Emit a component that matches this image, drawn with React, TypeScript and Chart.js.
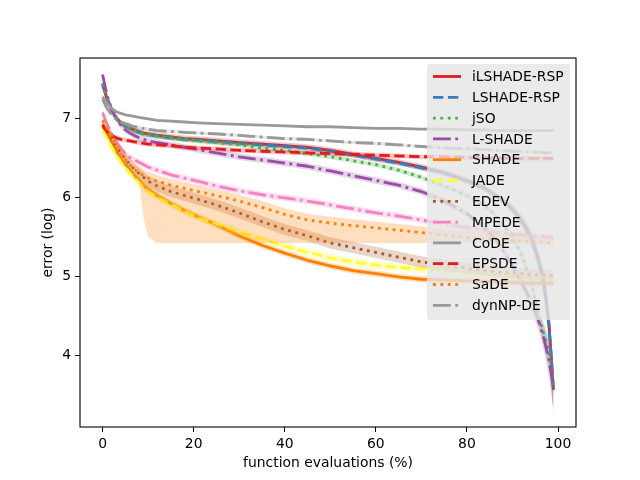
import { useEffect, useRef } from 'react'
import { Chart, registerables } from 'chart.js'

Chart.register(...registerables)

// function evaluations (%) at which the curves were read
const X = [0, 1, 2, 3, 4, 5, 6, 7, 8, 9, 10, 12, 15, 18, 21, 25, 30, 35, 40, 45, 50, 55, 60, 65, 70, 75, 80, 84, 87, 90, 92, 94, 96, 97, 98, 99]

const ILSHADE_RSP = [7.43, 7.25, 7.11, 7.01, 6.95, 6.91, 6.88, 6.86, 6.84, 6.82, 6.81, 6.79, 6.77, 6.75, 6.74, 6.72, 6.70, 6.68, 6.66, 6.64, 6.60, 6.55, 6.50, 6.45, 6.39, 6.32, 6.22, 6.12, 6.01, 5.86, 5.72, 5.52, 5.17, 4.88, 4.42, 3.57]
const LSHADE_RSP = [7.45, 7.26, 7.11, 7.01, 6.95, 6.91, 6.88, 6.85, 6.83, 6.81, 6.80, 6.78, 6.76, 6.74, 6.73, 6.71, 6.69, 6.67, 6.65, 6.63, 6.59, 6.54, 6.49, 6.44, 6.38, 6.31, 6.21, 6.11, 6.00, 5.85, 5.70, 5.50, 5.15, 4.85, 4.40, 3.57]
const JSO = [7.45, 7.26, 7.11, 7.01, 6.95, 6.91, 6.88, 6.85, 6.83, 6.81, 6.80, 6.78, 6.76, 6.74, 6.72, 6.70, 6.67, 6.63, 6.60, 6.56, 6.52, 6.47, 6.42, 6.35, 6.26, 6.15, 6.03, 5.90, 5.73, 5.50, 5.28, 4.95, 4.45, 4.25, 4.05, 3.62]
const L_SHADE = [7.56, 7.30, 7.12, 7.00, 6.92, 6.86, 6.82, 6.79, 6.76, 6.74, 6.72, 6.70, 6.67, 6.64, 6.61, 6.57, 6.52, 6.48, 6.44, 6.40, 6.34, 6.28, 6.22, 6.16, 6.08, 5.96, 5.80, 5.62, 5.42, 5.14, 4.93, 4.70, 4.40, 4.20, 3.95, 3.60]
const SHADE = [6.90, 6.82, 6.70, 6.59, 6.49, 6.42, 6.35, 6.28, 6.22, 6.16, 6.11, 6.03, 5.93, 5.84, 5.76, 5.66, 5.52, 5.40, 5.30, 5.21, 5.14, 5.08, 5.04, 5.00, 4.97, 4.96, 4.95, 4.94, 4.93, 4.93, 4.92, 4.92, 4.92, 4.92, 4.92, 4.92]
const JADE = [6.86, 6.75, 6.64, 6.54, 6.45, 6.38, 6.31, 6.25, 6.19, 6.13, 6.08, 6.01, 5.92, 5.83, 5.75, 5.67, 5.57, 5.48, 5.39, 5.31, 5.24, 5.19, 5.15, 5.12, 5.10, 5.08, 5.06, 5.04, 5.03, 5.02, 5.01, 5.01, 5.00, 5.00, 5.00, 5.00]
const EDEV = [6.93, 6.85, 6.76, 6.66, 6.57, 6.49, 6.42, 6.36, 6.31, 6.26, 6.21, 6.15, 6.08, 6.03, 5.98, 5.91, 5.81, 5.70, 5.60, 5.52, 5.43, 5.37, 5.31, 5.25, 5.19, 5.15, 5.11, 5.08, 5.06, 5.05, 5.04, 5.03, 5.03, 5.02, 5.02, 5.02]
const MPEDE = [7.08, 6.93, 6.81, 6.71, 6.63, 6.56, 6.51, 6.48, 6.45, 6.42, 6.39, 6.35, 6.29, 6.25, 6.21, 6.15, 6.09, 6.04, 6.00, 5.96, 5.91, 5.86, 5.81, 5.77, 5.72, 5.67, 5.62, 5.59, 5.56, 5.54, 5.53, 5.52, 5.51, 5.51, 5.50, 5.50]
const CODE = [7.28, 7.20, 7.13, 7.09, 7.07, 7.05, 7.04, 7.03, 7.02, 7.01, 7.00, 6.98, 6.97, 6.96, 6.95, 6.94, 6.93, 6.92, 6.91, 6.90, 6.90, 6.89, 6.88, 6.88, 6.87, 6.87, 6.86, 6.86, 6.85, 6.85, 6.85, 6.85, 6.85, 6.85, 6.85, 6.85]
const EPSDE = [6.92, 6.84, 6.79, 6.76, 6.74, 6.73, 6.72, 6.71, 6.70, 6.69, 6.68, 6.67, 6.66, 6.64, 6.63, 6.62, 6.60, 6.59, 6.58, 6.57, 6.56, 6.55, 6.54, 6.53, 6.52, 6.52, 6.51, 6.51, 6.50, 6.50, 6.50, 6.50, 6.50, 6.50, 6.50, 6.50]
const SADE = [6.98, 6.88, 6.77, 6.66, 6.56, 6.49, 6.42, 6.36, 6.32, 6.28, 6.25, 6.21, 6.16, 6.12, 6.08, 6.03, 5.96, 5.88, 5.79, 5.72, 5.68, 5.65, 5.62, 5.59, 5.56, 5.53, 5.50, 5.48, 5.47, 5.46, 5.45, 5.45, 5.44, 5.44, 5.43, 5.43]
const DYNNP_DE = [7.25, 7.13, 7.05, 6.99, 6.96, 6.94, 6.92, 6.90, 6.89, 6.88, 6.87, 6.85, 6.84, 6.83, 6.82, 6.81, 6.79, 6.77, 6.75, 6.74, 6.72, 6.70, 6.69, 6.67, 6.65, 6.63, 6.62, 6.61, 6.60, 6.59, 6.59, 6.58, 6.58, 6.57, 6.57, 6.57]

// lower edge of the SaDE band (it collapses to a flat floor after ~10%)
const SADE_LO = [6.94, 6.84, 6.73, 6.62, 6.52, 6.45, 6.38, 6.32, 6.22, 5.75, 5.50, 5.43, 5.43, 5.43, 5.43, 5.43, 5.43, 5.43, 5.43, 5.43, 5.43, 5.43, 5.43, 5.43, 5.43, 5.43, 5.43, 5.43, 5.43, 5.42, 5.42, 5.41, 5.40, 5.40, 5.40, 5.40]
// extra band half-width at the end of the steeply dropping runs
const TAIL = [0, 0, 0, 0, 0, 0, 0, 0, 0, 0, 0, 0, 0, 0, 0, 0, 0, 0, 0, 0, 0, 0, 0, 0, 0, 0, 0, 0, 0, 0.02, 0.03, 0.05, 0.08, 0.12, 0.17, 0.26]

const X_TICKS = [0, 20, 40, 60, 80, 100]
const Y_TICKS = [4, 5, 6, 7]

const FONT = "'DejaVu Sans', sans-serif"
const SOLID: number[] = []
const DASHED = [10.4, 4.5]
const DOTTED = [2.8, 4.6]
const DASHDOT = [17.8, 4.5, 2.8, 4.5]

const SERIES = [
  { label: 'iLSHADE-RSP', values: ILSHADE_RSP, color: '#e41a1c', dash: SOLID, spread: 0.04, tail: true },
  { label: 'LSHADE-RSP', values: LSHADE_RSP, color: '#377eb8', dash: DASHED, spread: 0.03, tail: true },
  { label: 'jSO', values: JSO, color: '#4daf4a', dash: DOTTED, spread: 0.03, tail: true },
  { label: 'L-SHADE', values: L_SHADE, color: '#984ea3', dash: DASHDOT, spread: 0.04, tail: true },
  { label: 'SHADE', values: SHADE, color: '#ff7f00', dash: SOLID, spread: 0.04, tail: false },
  { label: 'JADE', values: JADE, color: '#ffff33', dash: DASHED, spread: 0.05, tail: false },
  { label: 'EDEV', values: EDEV, color: '#a65628', dash: DOTTED, spread: 0.07, tail: false },
  { label: 'MPEDE', values: MPEDE, color: '#f781bf', dash: DASHDOT, spread: 0.04, tail: false },
  { label: 'CoDE', values: CODE, color: '#999999', dash: SOLID, spread: 0.01, tail: false },
  { label: 'EPSDE', values: EPSDE, color: '#e41a1c', dash: DASHED, spread: 0.03, tail: false },
  { label: 'SaDE', values: SADE, color: '#ff7f00', dash: DOTTED, spread: 0.08, tail: false, lo: SADE_LO },
  { label: 'dynNP-DE', values: DYNNP_DE, color: '#999999', dash: DASHDOT, spread: 0.02, tail: false },
]

function rgba(hex: string, a: number) {
  const n = parseInt(hex.slice(1), 16)
  return `rgba(${(n >> 16) & 255},${(n >> 8) & 255},${n & 255},${a})`
}

const framePlugin = {
  id: 'frame',
  afterDatasetsDraw(chart: Chart) {
    const { ctx, chartArea: a } = chart
    ctx.save()
    ctx.strokeStyle = '#000'
    ctx.lineWidth = 1.1
    ctx.strokeRect(a.left, a.top, a.right - a.left, a.bottom - a.top)
    ctx.restore()
  },
}

const boxLegend = {
  id: 'boxLegend',
  afterDraw(chart: Chart) {
    const { ctx } = chart
    const x = 427, y = 64, w = 143, h = 256, r = 3
    ctx.save()
    ctx.fillStyle = 'rgba(229,229,229,0.8)'
    ctx.beginPath()
    ctx.roundRect(x, y, w, h, r)
    ctx.fill()
    ctx.font = `13.9px ${FONT}`
    ctx.textBaseline = 'middle'
    ctx.textAlign = 'left'
    SERIES.forEach((s, i) => {
      const cy = 76.5 + i * 20.8
      ctx.strokeStyle = s.color
      ctx.lineWidth = 2.8
      ctx.lineCap = 'butt'
      ctx.setLineDash(s.dash)
      ctx.beginPath()
      ctx.moveTo(433, cy)
      ctx.lineTo(461, cy)
      ctx.stroke()
      ctx.setLineDash([])
      ctx.fillStyle = '#000'
      ctx.fillText(s.label, 472, cy + 1)
    })
    ctx.restore()
  },
}

export default function App() {
  const canvasRef = useRef<HTMLCanvasElement>(null)
  const chartRef = useRef<Chart | null>(null)

  useEffect(() => {
    if (!canvasRef.current) return
    document.body.style.margin = '0'
    chartRef.current?.destroy()

    const datasets: any[] = []
    SERIES.forEach((s, i) => {
      const hi = X.map((x, j) => ({ x, y: s.values[j] + s.spread + (s.tail ? TAIL[j] : 0) }))
      const lo = X.map((x, j) => ({ x, y: s.lo ? s.lo[j] : s.values[j] - s.spread - (s.tail ? TAIL[j] : 0) }))
      const bandOrder = 1000 - i * 3
      datasets.push({
        label: s.label + ' hi', data: hi, borderWidth: 0, borderColor: 'transparent',
        pointRadius: 0, fill: false, order: bandOrder,
      })
      datasets.push({
        label: s.label + ' lo', data: lo, borderWidth: 0, borderColor: 'transparent',
        pointRadius: 0, fill: '-1', backgroundColor: rgba(s.color, 0.25), order: bandOrder,
      })
      datasets.push({
        label: s.label,
        data: X.map((x, j) => ({ x, y: s.values[j] })),
        borderColor: s.color,
        borderWidth: 2.8,
        borderDash: s.dash,
        borderCapStyle: 'butt',
        borderJoinStyle: 'round',
        pointRadius: 0,
        fill: false,
        tension: 0,
        order: bandOrder - 1,
      })
    })

    chartRef.current = new Chart(canvasRef.current, {
      type: 'line',
      data: { datasets },
      options: {
        responsive: false,
        devicePixelRatio: 1,
        animation: false,
        events: [],
        layout: { padding: { top: 58, right: 64, left: 0, bottom: 0 } },
        plugins: { legend: { display: false }, tooltip: { enabled: false } },
        scales: {
          x: {
            type: 'linear',
            min: -4.95,
            max: 103.95,
            afterBuildTicks: (scale: any) => { scale.ticks = X_TICKS.map((v) => ({ value: v })) },
            afterFit: (scale: any) => { scale.height = 53 },
            grid: { display: true, drawOnChartArea: false, drawTicks: true, tickLength: 5, tickColor: '#000' },
            border: { display: false },
            ticks: { color: '#000', font: { family: FONT, size: 13.9 }, padding: 4, maxRotation: 0, autoSkip: false },
            title: {
              display: true, text: 'function evaluations (%)', color: '#000',
              font: { family: FONT, size: 13.9 }, padding: { top: 0, bottom: 8.7 },
            },
          },
          y: {
            type: 'linear',
            min: 3.1,
            max: 7.77,
            afterBuildTicks: (scale: any) => { scale.ticks = Y_TICKS.map((v) => ({ value: v })) },
            afterFit: (scale: any) => { scale.width = 80 },
            grid: { display: true, drawOnChartArea: false, drawTicks: true, tickLength: 5, tickColor: '#000' },
            border: { display: false },
            ticks: { color: '#000', font: { family: FONT, size: 13.9 }, padding: 4 },
            title: {
              display: true, text: 'error (log)', color: '#000',
              font: { family: FONT, size: 13.9 }, padding: { top: 39.7, bottom: 0 },
            },
          },
        },
      },
      plugins: [framePlugin, boxLegend],
    })

    return () => { chartRef.current?.destroy(); chartRef.current = null }
  }, [])

  return (
    <div style={{ width: 640, height: 480 }}>
      <canvas ref={canvasRef} width={640} height={480} />
    </div>
  )
}
